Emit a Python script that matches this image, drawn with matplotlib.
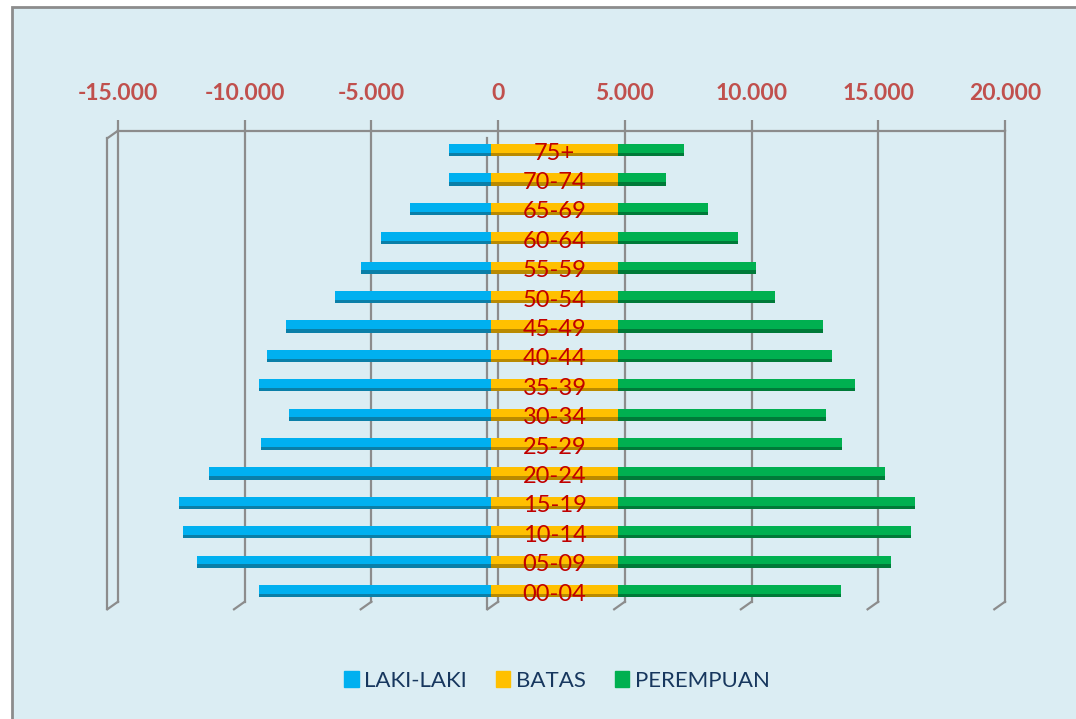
import matplotlib
matplotlib.use('Agg')
import matplotlib.pyplot as plt
import matplotlib.patches as mpatches
import matplotlib.transforms as mtransforms
import numpy as np

# data (urut dari 00-04 ke 75+)
kelompok = ['00-04', '05-09', '10-14', '15-19', '20-24', '25-29', '30-34', '35-39',
            '40-44', '45-49', '50-54', '55-59', '60-64', '65-69', '70-74', '75+']
laki = [9160, 11610, 12150, 12320, 11120, 9090, 7980, 9170,
        8850, 8090, 6160, 5140, 4350, 3220, 1650, 1650]
batas = [5000] * 16
perempuan = [8810, 10790, 11570, 11730, 10540, 8850, 8220, 9370,
             8460, 8100, 6210, 5470, 4750, 3550, 1890, 2620]
ticks = [-15000, -10000, -5000, 0, 5000, 10000, 15000, 20000]
tick_labels = ['-15.000', '-10.000', '-5.000', '0', '5.000', '10.000', '15.000', '20.000']

biru, kuning, hijau = '#00b0f0', '#ffc000', '#00b050'
biru_gelap, kuning_gelap, hijau_gelap = '#0a7fa8', '#b98a00', '#007a38'
abu = '#8c8c8c'
latar = '#dbedf3'

plt.rcParams['font.family'] = ['Lato', 'DejaVu Sans']

W, H = 1076, 719
fig = plt.figure(figsize=(W / 100, H / 100), dpi=100)
fig.patch.set_facecolor('white')
fig.add_artist(mpatches.Rectangle((12 / W, -0.01), 1.0, 1 - 7 / H + 0.01, transform=fig.transFigure,
                                  facecolor=latar, edgecolor=abu, linewidth=2, zorder=-10))

ax = fig.add_axes([118 / W, 117.3 / H, 887 / W, 471 / H])
ax.set_facecolor('none')
ax.set_xlim(-15000, 20000)
ax.set_ylim(-0.36, 15.66)

# garis grid belakang + kaki miring (efek 3D)
def geser(x, y, dx, dy):
    p = ax.transData.transform((x, y))
    return ax.transData.inverted().transform((p[0] + dx, p[1] + dy))

y0, y1 = ax.get_ylim()
dx3, dy3 = -10.7, -7.6
for v in ticks:
    ax.plot([v, v], [y0, y1], color=abu, lw=1.6, zorder=1, clip_on=False)
    kaki = geser(v, y0, dx3, dy3)
    ax.plot([v, kaki[0]], [y0, kaki[1]], color=abu, lw=1.6, zorder=1, clip_on=False)
for v in [-15000, 0]:
    atas = geser(v, y1, dx3, dy3)
    bawah = geser(v, y0, dx3, dy3)
    ax.plot([atas[0], bawah[0]], [atas[1], bawah[1]], color=abu, lw=1.6, zorder=1, clip_on=False)
atas = geser(-15000, y1, dx3, dy3)
ax.plot([-15000, atas[0]], [y1, atas[1]], color=abu, lw=1.6, zorder=1, clip_on=False)

# batang (bidang depan, sedikit bergeser ke kiri)
tr = mtransforms.offset_copy(ax.transData, fig=fig, x=-7, y=0, units='dots')
y = np.arange(len(kelompok))
laki_neg = -np.array(laki)
h = 0.42
ax.barh(y, laki_neg, height=h, color=biru, transform=tr, zorder=3)
ax.barh(y, batas, height=h, color=kuning, transform=tr, zorder=3)
ax.barh(y, perempuan, left=batas, height=h, color=hijau, transform=tr, zorder=3)
ax.barh(y - h / 2, laki_neg, height=0.12, align='edge', color=biru_gelap, transform=tr, zorder=4)
ax.barh(y - h / 2, batas, height=0.12, align='edge', color=kuning_gelap, transform=tr, zorder=4)
ax.barh(y - h / 2, perempuan, left=batas, height=0.12, align='edge', color=hijau_gelap, transform=tr, zorder=4)

for i, lab in enumerate(kelompok):
    ax.text(batas[i] / 2, i - 0.1, lab, transform=tr, ha='center', va='center',
            color='#c00000', fontsize=17, zorder=5)

# sumbu atas
ax.xaxis.tick_top()
ax.set_xticks(ticks)
ax.set_xticklabels(tick_labels)
ax.set_yticks([])
ax.tick_params(axis='x', length=8, width=1.6, color=abu, pad=11, labelsize=16.5,
               labelcolor='#c0504d')
for t in ax.get_xticklabels():
    t.set_fontweight('bold')
for s in ['left', 'right', 'bottom']:
    ax.spines[s].set_visible(False)
ax.spines['top'].set_color(abu)
ax.spines['top'].set_linewidth(1.6)

handles = [mpatches.Patch(color=biru, label='LAKI-LAKI'),
           mpatches.Patch(color=kuning, label='BATAS'),
           mpatches.Patch(color=hijau, label='PEREMPUAN')]
leg = fig.legend(handles=handles, loc='center', bbox_to_anchor=(557 / W, 1 - 681 / H), ncol=3,
                 frameon=False, fontsize=16, handlelength=0.65, handleheight=0.7,
                 handletextpad=0.25, columnspacing=1.3)
for t in leg.get_texts():
    t.set_color('#17375e')

fig.savefig('out.png', dpi=100, facecolor=fig.get_facecolor())
